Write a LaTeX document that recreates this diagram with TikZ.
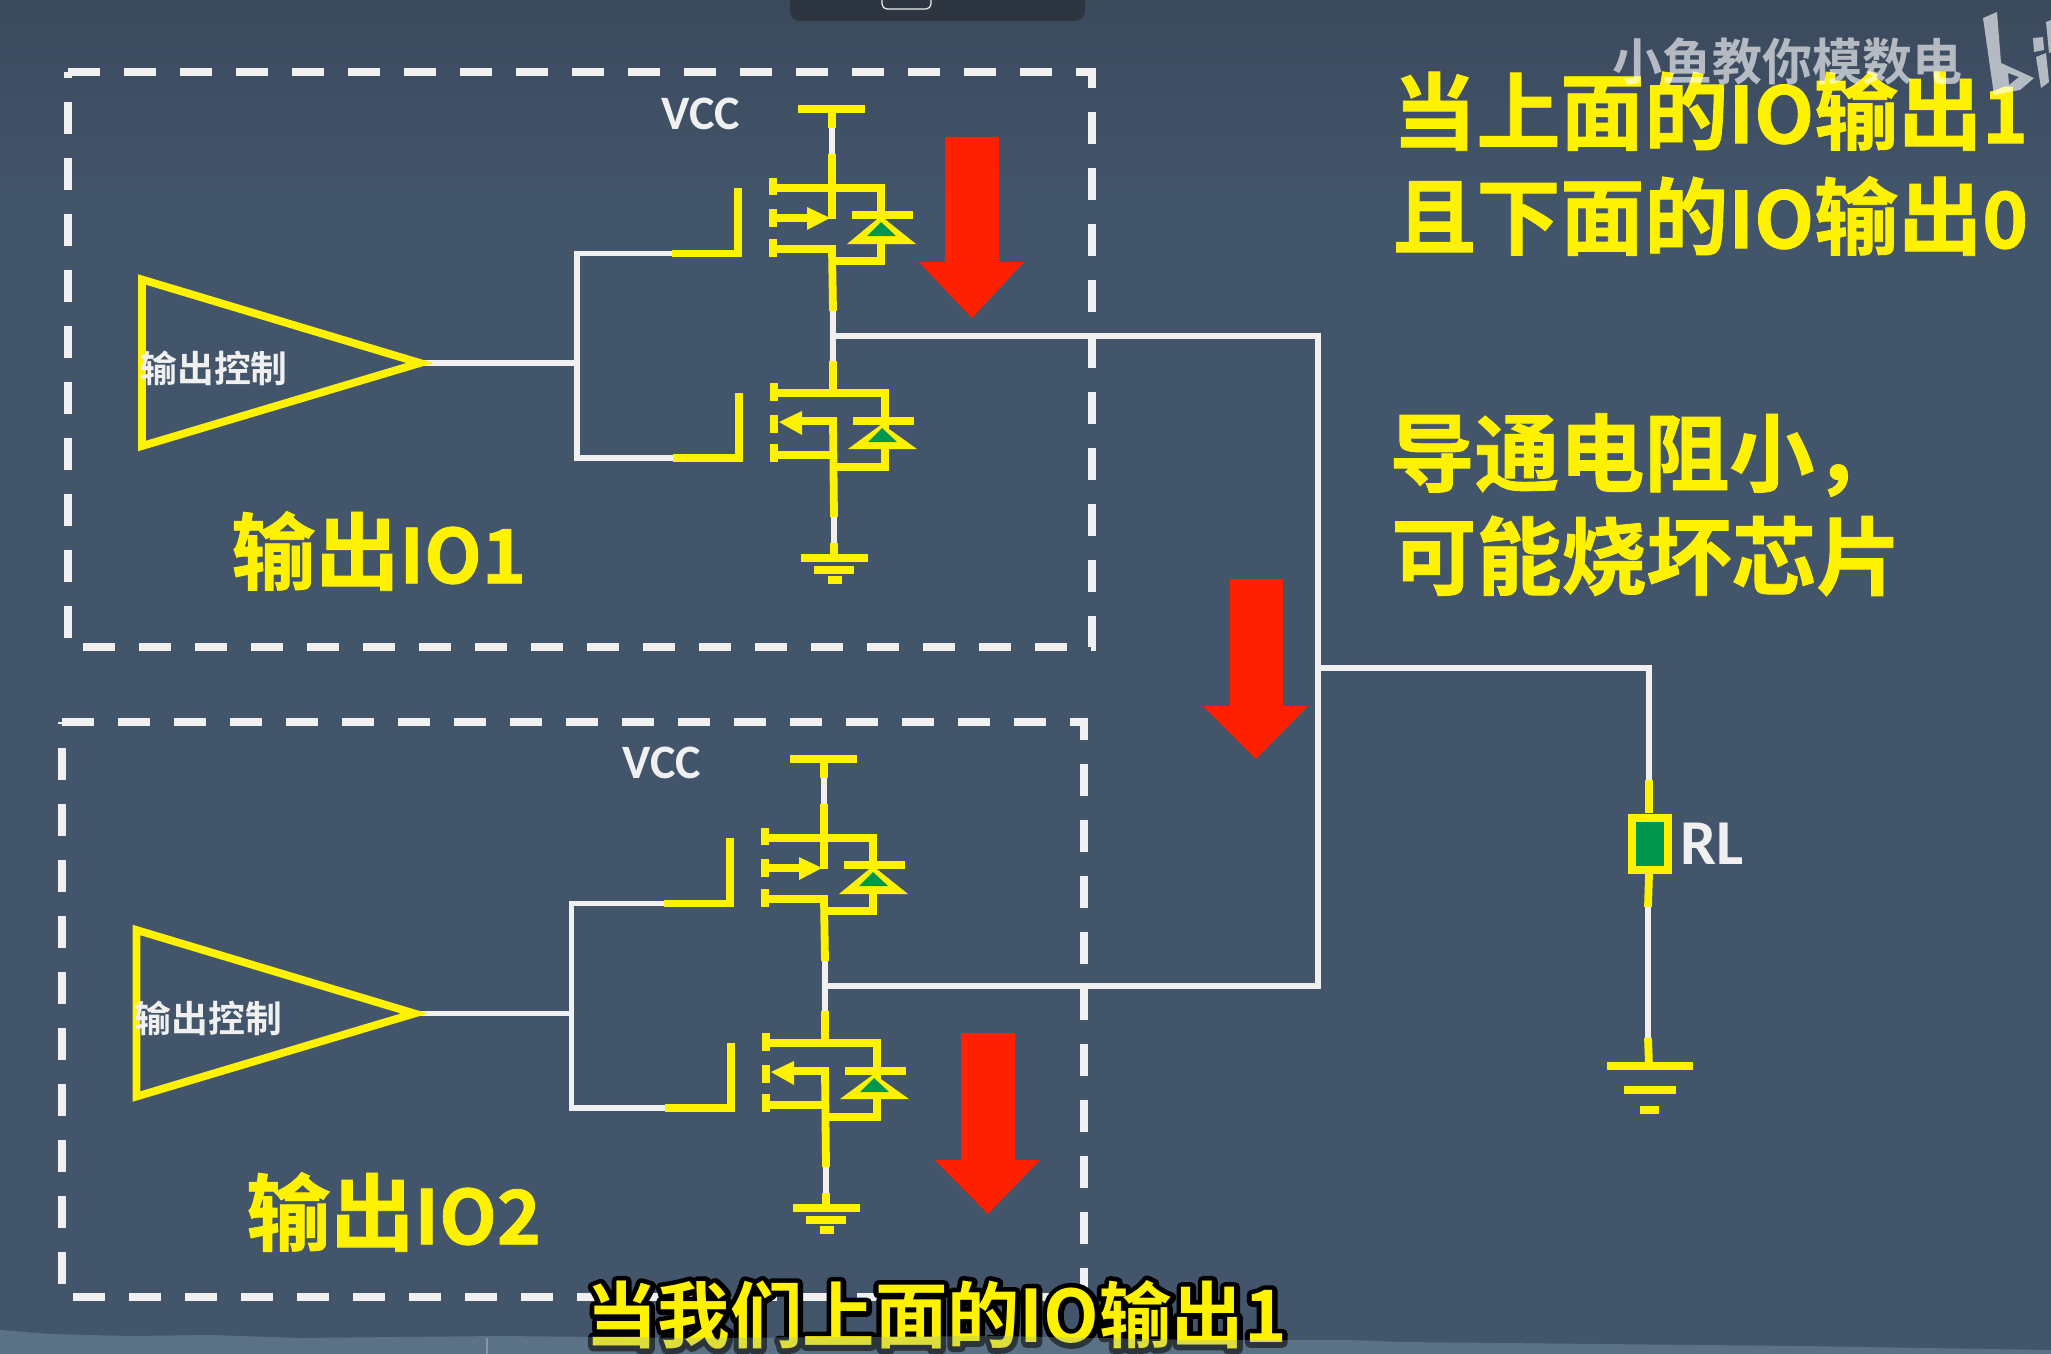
\documentclass[tikz,border=0pt]{standalone}
\usepackage{fontspec}
\setmainfont{Noto Sans CJK SC}[BoldFont={Noto Sans CJK SC Bold}]
\newfontfamily\cjkbold{Noto Sans CJK SC Bold}
\newfontfamily\cjkheavy{Noto Sans CJK SC Bold}[FakeBold=1]
\newfontfamily\latinbold{Carlito Bold}
\newcommand\capt[2]{{\cjkheavy\fontsize{#1}{#1}\selectfont #2}}
\newcommand\lat[1]{{\fontsize{37.5}{37.5}\selectfont #1}}
\newcommand\latb[1]{{\fontsize{39}{39}\selectfont #1}}
\definecolor{bgmain}{HTML}{43556B}
\definecolor{bgtop}{HTML}{3B495C}
\definecolor{cbar}{HTML}{2D3540}
\definecolor{cyellow}{HTML}{FFF200}
\definecolor{cgreen}{HTML}{00964E}
\definecolor{cred}{HTML}{FF2000}
\definecolor{cwhite}{HTML}{F0F0F0}
\definecolor{cband}{HTML}{90B2C5}
\tikzset{
  x=0.5pt,y=-0.5pt,
  wire/.style={draw=cwhite,line width=2.7pt},
  fet/.style={draw=cyellow,line width=3.9pt,miter limit=10},
  pad/.style={draw=cyellow,line width=4pt},
  frame/.style={draw=cwhite,line width=3.8pt,dash pattern=on 16pt off 12pt},
  redarrow/.style={fill=cred},
  caption/.style={text=cyellow,anchor=west,inner sep=0pt},
  vlabel/.style={text=cwhite,inner sep=0pt},
  wmark/.style={white,opacity=.62},
}
% transistor pair of one stage, in the coordinates of the upper stage
\newcommand\fetpair[1]{%
  \coordinate (#1vcc) at (832,109);
  \coordinate (#1vs) at (832,128);
  \coordinate (#1ve) at (832,154);
  \coordinate (#1d) at (832,219);
  \coordinate (#1top) at (833,311);
  \coordinate (#1mid) at (833,336);
  \coordinate (#1low) at (833,361);
  \coordinate (#1gs) at (834,517);
  \coordinate (#1ge) at (834,543);
  \coordinate (#1gnd) at (834,558);
  \draw[wire] (#1vs) -- (#1ve);
  \draw[wire] (#1top) -- (#1low);
  \draw[wire] (#1gs) -- (#1ge);
  \draw[fet] (798,109) -- (865,109);
  \draw[fet] (#1vcc) -- (#1vs);
  % upper transistor
  \draw[fet] (#1ve) -- (#1d);
  \draw[fet] (773,188) -- (881,188) -- (881,261) -- (832,261);
  \draw[fet] (773,249) -- (832,249) -- (#1top);
  \draw[fet] (773,218) -- (812,218);
  \fill[cyellow] (807,207) -- (830,218) -- (807,230) -- cycle;
  \foreach \ya/\yb in {178/195,209/227,239/257} \draw[pad] (773,\ya) -- (773,\yb);
  \fill[cyellow] (881,216) -- (916,244) -- (847,244) -- cycle;
  \draw[fet] (852,215) -- (913,215);
  \fill[cgreen] (881,222) -- (896,236) -- (867,236) -- cycle;
  % lower transistor
  \draw[fet] (#1low) -- (833,393);
  \draw[fet] (774,393) -- (885,393) -- (885,467) -- (833,467);
  \draw[fet] (800,421) -- (833,421) -- (#1gs);
  \draw[fet] (774,455) -- (833,455);
  \fill[cyellow] (779,422) -- (802,411) -- (802,435) -- cycle;
  \foreach \ya/\yb in {383/401,415/433,444/462} \draw[pad] (774,\ya) -- (774,\yb);
  \fill[cyellow] (882,424) -- (917,449) -- (848,449) -- cycle;
  \draw[fet] (853,421) -- (914,421);
  \fill[cgreen] (882,428) -- (897,442) -- (868,442) -- cycle;
  % ground
  \draw[fet] (#1ge) -- (#1gnd);
  \draw[fet] (801,558) -- (868,558);
  \draw[fet] (814,570) -- (854,570);
  \draw[fet] (828,580) -- (842,580);
  % gate strokes
  \coordinate (#1ga) at (672,253.5);
  \coordinate (#1gb) at (673,458);
  \draw[fet] (#1ga) -- (738,253.5) -- (738,188);
  \draw[fet] (#1gb) -- (739,458) -- (739,393);
}
% driver triangle with its wires to the gates of the same stage
\newcommand\driver[1]{%
  \coordinate (#1tip) at (420,363);
  \coordinate (#1jn) at (577,363);
  \draw[wire] (#1tip) -- (#1jn);
  \draw[wire] (#1ga) -| (#1jn) |- (#1gb);
  \draw[cyellow,line width=3.9pt,miter limit=10] (142,279.5) -- (#1tip) -- (142,446) -- cycle;
  \node[inner sep=0pt,text=cwhite,font=\cjkbold\fontsize{18.4}{18.4}\selectfont,anchor=west] (#1ctl) at (140,368) {输出控制};
}
\begin{document}
\begin{tikzpicture}
\useasboundingbox (0,0) rectangle (2051,1354);
\clip (0,0) rectangle (2051,1354);
\fill[bgmain] (0,0) rectangle (2051,1354);
\shade[top color=bgtop,bottom color=bgmain] (0,0) rectangle (2051,200);
% top bar of the window
\fill[cbar,rounded corners=5pt] (790,-30) rectangle (1085,21);
\draw[cwhite,line width=.6pt,rounded corners=2.5pt] (882,-20) rectangle (931,9);
% frames
\draw[frame] (68,72) -- (1092,72) -- (1092,647) -- (68,647) -- cycle;
\draw[frame] (62,722) -- (1084,722) -- (1084,1297) -- (62,1297) -- cycle;
% stages
\fetpair{a}
\driver{a}
\node[vlabel,font=\latinbold\fontsize{24}{24}\selectfont] (avl) at (701,114) {VCC};
\node[caption] (lab1) at (231,551) {\capt{42}{输出\lat{IO1}}};
\begin{scope}[shift={(-8,650)}]
\fetpair{b}
\end{scope}
\begin{scope}[shift={(-5.5,650.5)}]
\driver{b}
\end{scope}
\node[vlabel,font=\latinbold\fontsize{24}{24}\selectfont] (bvl) at (662,763) {VCC};
\node[caption] (lab2) at (246,1212) {\capt{42}{输出\lat{IO2}}};
% output net
\coordinate (net1) at (1318,336);
\coordinate (net2) at (1318,986);
\coordinate (tap) at (1318,668);
\coordinate (rtop) at (1649,668);
\coordinate (ry) at (1649,780);
\coordinate (rb) at (1648,907);
\coordinate (rg) at (1648,1038);
\draw[wire] (amid) -- (net1) -- (net2) -- (bmid);
\draw[wire] (tap) -- (rtop) -- (ry);
\draw[wire] (rb) -- (rg);
\draw[fet] (ry) -- (1649,813);
\draw[fet] (1649,874) -- (rb);
\node[draw=cyellow,fill=cgreen,line width=4pt,minimum width=18pt,minimum height=26pt,inner sep=0pt,anchor=center] (rl) at (1650,843.5) {};
\draw[fet] (rg) -- (1649,1066);
\draw[pad] (1607,1066) -- (1693,1066);
\draw[pad] (1624,1090) -- (1676,1090);
\draw[pad] (1640,1110) -- (1659,1110);
\node[vlabel,font=\latinbold\fontsize{32}{32}\selectfont,anchor=west] (rlt) at (1680,844) {RL};
% red arrows
\fill[redarrow] (945,137) -- (999,137) -- (999,262) -- (1024,262) -- (972,318) -- (919,262) -- (945,262) -- cycle;
\fill[redarrow] (1230,579) -- (1283,579) -- (1283,706) -- (1308,706) -- (1256,759) -- (1203,706) -- (1230,706) -- cycle;
\fill[redarrow] (961,1033) -- (1015,1033) -- (1015,1160) -- (1040,1160) -- (988,1214) -- (935,1160) -- (961,1160) -- cycle;
% captions on the right
\node[caption] (t1) at (1392,111) {\capt{42}{当上面的\latb{IO}输出\latb{1}}};
\node[caption] (t2) at (1392,216) {\capt{42}{且下面的\latb{IO}输出\latb{0}}};
\node[caption] (t3) at (1389,455) {\capt{42.5}{导通电阻小，}};
\node[caption] (t4) at (1391,556) {\capt{42.5}{可能烧坏芯片}};
% subtitle: black stroked outline under the yellow letters, one node
\node[anchor=west,inner sep=0pt] (sub) at (585,1315) {\cjkbold\fontsize{36.2}{36.2}\selectfont
  \makebox[0pt][l]{\textcolor{black}{\special{pdf:code 1 Tr 1 j 1 J 5.2 w 0 0 0 RG}当我们上面的IO输出1\special{pdf:code 0 Tr 0 j 0 J 1 w}}}%
  \textcolor{cyellow}{当我们上面的IO输出1}};
% strip at the bottom
\fill[cband,opacity=.3] (0,1330) -- (50,1334) -- (130,1336) -- (210,1335) -- (300,1338) -- (500,1336) -- (700,1338) -- (1000,1336) -- (1200,1340) -- (1350,1340) -- (1400,1342) -- (1500,1343) -- (1800,1346) -- (2051,1350) -- (2051,1354) -- (0,1354) -- cycle;
\fill[black!30!cband,opacity=.2] (344,1338) rectangle (397,1354);
\fill[cwhite,opacity=.3] (486,1338) rectangle (488,1354);
% watermark
\node[anchor=west,inner sep=0pt,text=white,opacity=.62,font=\cjkbold\fontsize{25}{25}\selectfont] (wm) at (1612,61) {小鱼教你模数电};
\fill[wmark,even odd rule] (1983,18) -- (1997,12) -- (2001,63) -- (2034,78) -- (2020,90) -- (1994,95) -- cycle (2008,73) -- (2019,77) -- (2009,85) -- cycle;
\fill[wmark] (2033,38) -- (2043,37) -- (2044,50) -- (2034,52) -- cycle;
\fill[wmark] (2036,57) -- (2046,53) -- (2049,82) -- (2041,88) -- cycle;
\fill[wmark] (2046,22) -- (2051,20) -- (2051,52) -- (2049,53) -- cycle;
\end{tikzpicture}
\end{document}
